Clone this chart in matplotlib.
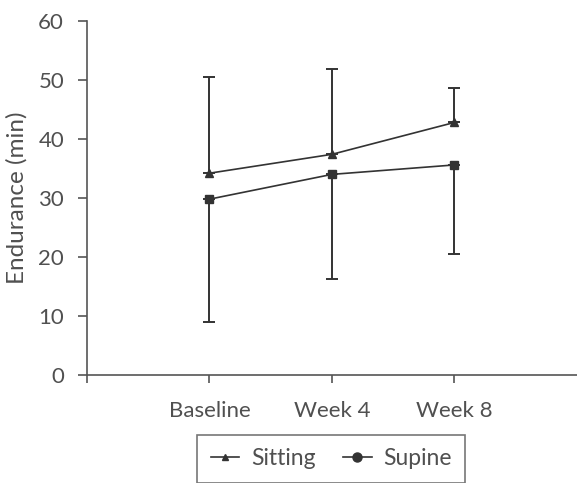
import numpy as np
import matplotlib.pyplot as plt
from matplotlib.lines import Line2D

plt.rcParams['font.family'] = ['Lato', 'DejaVu Sans']

timepoints = ['Baseline', 'Week 4', 'Week 8']
sitting = [34.2, 37.4, 42.8]
sitting_upper = [50.5, 51.8, 48.6]
supine = [29.8, 34.0, 35.6]
supine_lower = [9.0, 16.2, 20.5]

ink = '#333333'
txt = '#505050'

fig = plt.figure(figsize=(5.77, 4.83), dpi=100)
ax = fig.add_axes([0.1508, 0.2236, 0.849, 0.733])

x = np.arange(1, len(timepoints) + 1)

# sitting: error bars upward only
err_up = np.array(sitting_upper) - np.array(sitting)
ax.errorbar(x, sitting, yerr=[np.zeros_like(err_up), err_up], color=ink,
            marker='^', markersize=6, lw=1.2, elinewidth=1.4, capsize=4,
            capthick=1.4)

# supine: error bars downward only
err_dn = np.array(supine) - np.array(supine_lower)
ax.errorbar(x, supine, yerr=[err_dn, np.zeros_like(err_dn)], color=ink,
            marker='s', markersize=6, lw=1.2, elinewidth=1.4, capsize=4,
            capthick=1.4)

ax.set_xlim(0, 4)
ax.set_ylim(0, 60)
ax.set_yticks(range(0, 61, 10))
ax.set_xticks(x)
ax.set_xticklabels(timepoints)
ax.set_xticks([0], minor=True)

for s in ['top', 'right']:
    ax.spines[s].set_visible(False)
for s in ['left', 'bottom']:
    ax.spines[s].set_color('#555555')
    ax.spines[s].set_linewidth(1.2)

ax.tick_params(axis='y', length=6.5, width=1.2, color='#555555',
               labelsize=16, labelcolor=txt, pad=10)
ax.tick_params(axis='x', which='both', length=6, width=1.2, color='#555555',
               labelsize=16, labelcolor=txt, pad=13)
ax.set_ylabel('Endurance (min)', fontsize=17.5, color=txt, labelpad=8)

handles = [
    Line2D([], [], color=ink, marker='^', markersize=5, lw=1.2),
    Line2D([], [], color=ink, marker='o', markersize=6.5, lw=1.2),
]
leg = fig.legend(handles, ['Sitting', 'Supine'], loc='upper center',
                 bbox_to_anchor=(0.574, 0.1), ncol=2, fontsize=16.5,
                 frameon=True, fancybox=False, handlelength=1.25,
                 columnspacing=1.2, borderpad=0.6, handletextpad=0.5,
                 borderaxespad=0)
leg.get_frame().set_edgecolor('#555555')
leg.get_frame().set_linewidth(1.2)
for t in leg.get_texts():
    t.set_color(txt)

fig.savefig('out.png', dpi=100)
